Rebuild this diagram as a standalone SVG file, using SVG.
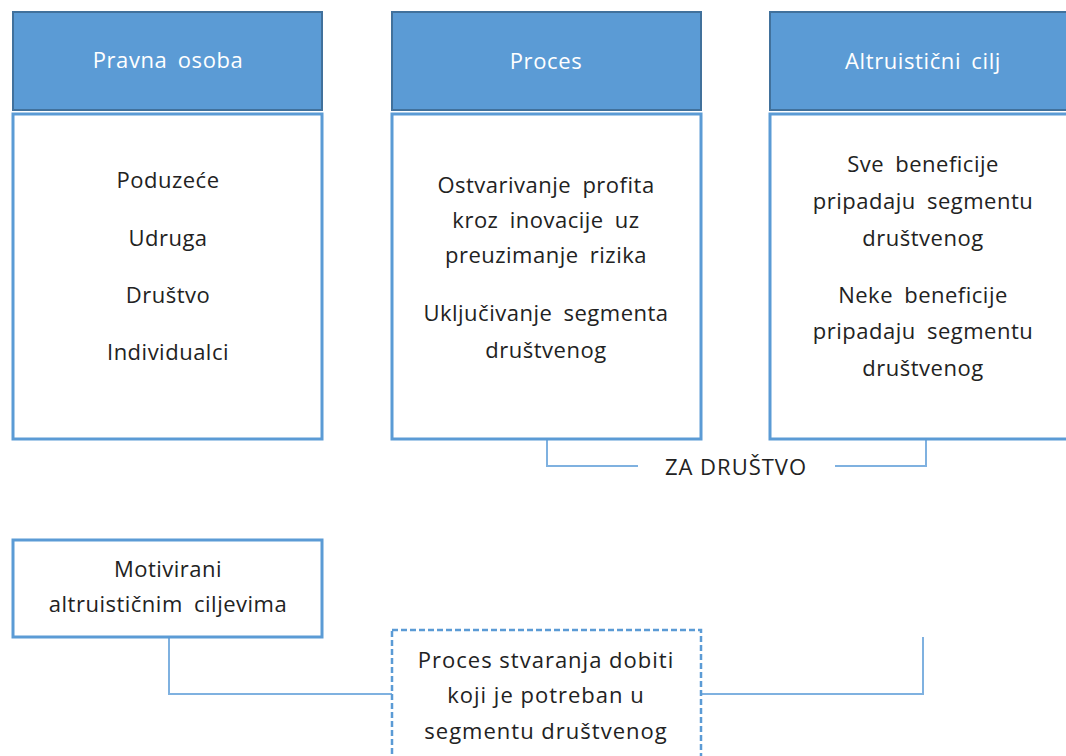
<svg xmlns="http://www.w3.org/2000/svg" width="1066" height="756" viewBox="0 0 1066 756">
<style>
.hdr{fill:#5b9bd5;stroke:#41719c;stroke-width:2}
.body{fill:#fff;stroke:#5b9bd5;stroke-width:3}
.ht{font-family:"Open Sans","Liberation Sans",sans-serif;font-size:22px;fill:#fff;text-anchor:middle;letter-spacing:0.6px;word-spacing:4px}
.bt{font-family:"Open Sans","Liberation Sans",sans-serif;font-size:22px;fill:#222;text-anchor:middle;letter-spacing:0.5px;word-spacing:5px}
.nt{font-family:"Open Sans","Liberation Sans",sans-serif;font-size:22px;fill:#222;text-anchor:middle;letter-spacing:1px}
.con{fill:none;stroke:#7fb1e0;stroke-width:2}
.dash{fill:#fff;stroke:#5b9bd5;stroke-width:2.5;stroke-dasharray:6 3}
</style>
<rect width="1066" height="756" fill="#fff"/>
<g id="connectors">
<path class="con" d="M547 440 V466 H638 M835 466 H926 V440"/>
<path class="con" d="M169 637 V694 H392 M701 694 H923 V637"/>
</g>
<g id="pravna-osoba">
<rect class="hdr" x="13" y="12" width="309" height="98"/>
<text class="ht" x="168" y="68">Pravna osoba</text>
<rect class="body" x="13" y="114" width="309" height="325"/>
<text class="bt" x="168" y="188">Poduzeće</text>
<text class="bt" x="168" y="246">Udruga</text>
<text class="bt" x="168" y="303">Društvo</text>
<text class="bt" x="168" y="360">Individualci</text>
</g>
<g id="proces">
<rect class="hdr" x="392" y="12" width="309" height="98"/>
<text class="ht" x="546" y="69">Proces</text>
<rect class="body" x="392" y="114" width="309" height="325"/>
<text class="bt" x="546" y="193">Ostvarivanje profita</text>
<text class="bt" x="546" y="228">kroz inovacije uz</text>
<text class="bt" x="546" y="263">preuzimanje rizika</text>
<text class="bt" x="546" y="321">Uključivanje segmenta</text>
<text class="bt" x="546" y="358">društvenog</text>
</g>
<g id="altruisticni-cilj">
<rect class="hdr" x="770" y="12" width="309" height="98"/>
<text class="ht" x="923" y="69">Altruistični cilj</text>
<rect class="body" x="770" y="114" width="309" height="325"/>
<text class="bt" x="923" y="172">Sve beneficije</text>
<text class="bt" x="923" y="209">pripadaju segmentu</text>
<text class="bt" x="923" y="246">društvenog</text>
<text class="bt" x="923" y="303">Neke beneficije</text>
<text class="bt" x="923" y="339">pripadaju segmentu</text>
<text class="bt" x="923" y="376">društvenog</text>
</g>
<g id="za-drustvo">
<text class="nt" x="736" y="475">ZA DRUŠTVO</text>
</g>
<g id="motivirani">
<rect class="body" x="13" y="540" width="309" height="97"/>
<text class="bt" x="168" y="577">Motivirani</text>
<text class="bt" x="168" y="612">altruističnim ciljevima</text>
</g>
<g id="proces-stvaranja">
<rect class="dash" x="392" y="630" width="309" height="140"/>
<text class="nt" x="546" y="668">Proces stvaranja dobiti</text>
<text class="nt" x="546" y="703">koji je potreban u</text>
<text class="nt" x="546" y="739">segmentu društvenog</text>
</g>
</svg>
